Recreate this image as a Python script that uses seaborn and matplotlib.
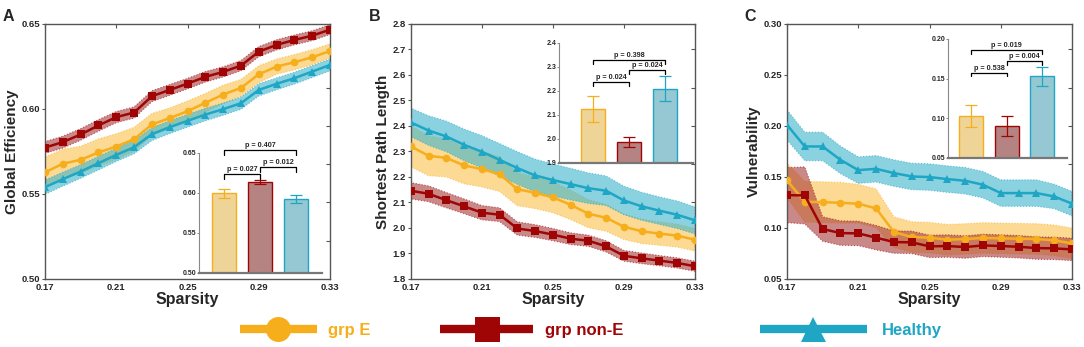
import matplotlib
matplotlib.use("Agg")
import matplotlib.pyplot as plt
from matplotlib.lines import Line2D
import numpy as np
import seaborn as sns

sns.set_style("white")
plt.rcParams['font.family'] = ['Liberation Sans', 'DejaVu Sans']
plt.rcParams['font.weight'] = 'bold'

# ---- data ----
sparsity = [0.17, 0.18, 0.19, 0.20, 0.21, 0.22, 0.23, 0.24, 0.25, 0.26,
            0.27, 0.28, 0.29, 0.30, 0.31, 0.32, 0.33]
groups = ["grp E", "grp non-E", "Healthy"]

# A: global efficiency
ge_E = [0.5627, 0.5678, 0.5701, 0.5744, 0.5779, 0.5822, 0.5909, 0.5946, 0.5987,
        0.6036, 0.6085, 0.6124, 0.6204, 0.6249, 0.6275, 0.6304, 0.6341]
ge_nonE = [0.5773, 0.5805, 0.5850, 0.5903, 0.5952, 0.5979, 0.6075, 0.6112, 0.6149,
           0.6189, 0.6218, 0.6255, 0.6337, 0.6377, 0.6406, 0.6431, 0.6467]
ge_H = [0.5540, 0.5587, 0.5632, 0.5681, 0.5730, 0.5775, 0.5852, 0.5893, 0.5930,
        0.5967, 0.5999, 0.6034, 0.6112, 0.6148, 0.6181, 0.6220, 0.6259]
ge_E_sem = [0.009, 0.0085, 0.008, 0.008, 0.0075, 0.007, 0.0065, 0.006, 0.006,
            0.0055, 0.0055, 0.005, 0.005, 0.0045, 0.0045, 0.0045, 0.0042]
ge_nonE_sem = [0.0035, 0.0035, 0.0034, 0.0034, 0.0033, 0.0033, 0.0032, 0.0032, 0.0031,
               0.0031, 0.003, 0.003, 0.003, 0.003, 0.0029, 0.0029, 0.0029]
ge_H_sem = [0.0042, 0.0041, 0.004, 0.004, 0.0039, 0.0039, 0.0038, 0.0038, 0.0037,
            0.0037, 0.0036, 0.0036, 0.0036, 0.0035, 0.0035, 0.0035, 0.0035]
ge_bar = [0.5997, 0.6135, 0.5922]
ge_bar_err = [0.0057, 0.0027, 0.005]
ge_p = ["p = 0.027", "p = 0.012", "p = 0.407"]

# B: shortest path length
spl_E = [2.320, 2.283, 2.275, 2.245, 2.231, 2.211, 2.152, 2.138, 2.120, 2.091,
         2.056, 2.040, 2.005, 1.987, 1.978, 1.970, 1.954]
spl_nonE = [2.146, 2.134, 2.109, 2.085, 2.060, 2.052, 1.998, 1.988, 1.974, 1.958,
            1.950, 1.928, 1.891, 1.881, 1.872, 1.863, 1.850]
spl_H = [2.414, 2.382, 2.359, 2.326, 2.299, 2.267, 2.235, 2.206, 2.188, 2.172,
         2.156, 2.146, 2.108, 2.085, 2.068, 2.052, 2.030]
spl_E_sem = [0.08, 0.078, 0.075, 0.072, 0.07, 0.068, 0.065, 0.062, 0.06, 0.058,
             0.055, 0.053, 0.05, 0.048, 0.046, 0.045, 0.044]
spl_nonE_sem = [0.032, 0.031, 0.03, 0.029, 0.028, 0.027, 0.026, 0.025, 0.024, 0.023,
                0.022, 0.022, 0.021, 0.021, 0.02, 0.02, 0.02]
spl_H_sem = [0.056, 0.058, 0.06, 0.062, 0.063, 0.064, 0.064, 0.064, 0.063, 0.062,
             0.06, 0.058, 0.056, 0.055, 0.054, 0.054, 0.053]
spl_bar = [2.125, 1.9875, 2.21]
spl_bar_err = [0.053, 0.021, 0.051]
spl_p = ["p = 0.024", "p = 0.024", "p = 0.398"]

# C: vulnerability
vul_E = [0.1466, 0.1257, 0.1253, 0.1247, 0.1238, 0.1192, 0.0960, 0.0911, 0.0905,
         0.0885, 0.0892, 0.0902, 0.0898, 0.0895, 0.0892, 0.0879, 0.0849]
vul_nonE = [0.1322, 0.1319, 0.0990, 0.0950, 0.0947, 0.0905, 0.0862, 0.0859, 0.0820,
            0.0823, 0.0813, 0.0829, 0.0823, 0.0816, 0.0803, 0.0800, 0.0790]
vul_H = [0.2011, 0.1799, 0.1799, 0.1668, 0.1567, 0.1580, 0.1538, 0.1505, 0.1499,
         0.1479, 0.1463, 0.1424, 0.1342, 0.1342, 0.1342, 0.1309, 0.1238]
vul_E_sem = [0.017, 0.02, 0.02, 0.02, 0.019, 0.019, 0.015, 0.015, 0.015,
             0.015, 0.015, 0.015, 0.015, 0.015, 0.015, 0.015, 0.015]
vul_nonE_sem = [0.027, 0.028, 0.012, 0.012, 0.012, 0.012, 0.011, 0.011, 0.011,
                0.011, 0.011, 0.011, 0.011, 0.011, 0.011, 0.011, 0.011]
vul_H_sem = [0.0147, 0.014, 0.014, 0.0135, 0.013, 0.013, 0.013, 0.013, 0.013,
             0.013, 0.013, 0.013, 0.013, 0.013, 0.013, 0.012, 0.012]
vul_bar = [0.1028, 0.0906, 0.1531]
vul_bar_err = [0.0138, 0.0126, 0.0122]
vul_p = ["p = 0.538", "p = 0.004", "p = 0.019"]

line_colors = ["#F7AE1C", "#A00505", "#1EA6C4"]
band_colors = ["#FBC24C", "#A83A3A", "#3DB5CC"]
band_alpha = [0.6, 0.6, 0.6]
bar_faces = ["#FDD98A", "#BE7A7A", "#8BCFDD"]
markers = ["o", "s", "^"]
frame_col = "#555555"

fig = plt.figure(figsize=(10.84, 3.47), dpi=100)


def main_panel(rect, series, sems, ylim, yticks, ylabel, letter):
    ax = fig.add_axes(rect)
    # right-side inner ticks (own scale, drawn under the data)
    ax2 = ax.twinx()
    ax2.set_ylim(0, 1)
    ax2.set_yticks([0.15, 0.30, 0.45, 0.60, 0.75, 0.90])
    ax2.tick_params(axis='y', direction='in', length=3, width=0.8, color=frame_col,
                    labelright=False)
    ax2.set_zorder(ax.get_zorder() - 1)
    ax.patch.set_visible(False)
    for s in ax2.spines.values():
        s.set_visible(False)

    for i in [0, 2, 1]:
        y = np.array(series[i])
        e = np.array(sems[i])
        ax.fill_between(sparsity, y - e, y + e, facecolor=band_colors[i], alpha=band_alpha[i],
                        edgecolor=line_colors[i], linestyle=':', linewidth=0.8, zorder=2)
    for i in [0, 2, 1]:
        sns.lineplot(x=sparsity, y=series[i], ax=ax, color=line_colors[i], marker=markers[i],
                     markersize=5.5, markeredgewidth=0, linewidth=1.8, zorder=3)
    ax.set_xlim(0.17, 0.33)
    ax.set_ylim(*ylim)
    ax.set_xticks([0.17, 0.21, 0.25, 0.29, 0.33])
    ax.set_xticklabels(["0.17", "0.21", "0.25", "0.29", "0.33"])
    ax.set_yticks(yticks)
    ax.set_yticklabels(["%.2f" % t if ylim[1] < 1 else "%.1f" % t for t in yticks])
    ax.tick_params(axis='both', labelsize=6.8, length=2, width=0.8, color=frame_col, pad=1.5)
    ax.tick_params(axis='x', top=True, direction='in', length=3, pad=3)
    ax.tick_params(axis='y', left=True, direction='out', length=2)
    for lab in ax.get_xticklabels() + ax.get_yticklabels():
        lab.set_fontweight('bold')
    for s in ax.spines.values():
        s.set_color(frame_col)
        s.set_linewidth(1.0)
    ax.set_xlabel("Sparsity", fontsize=11.5, fontweight='bold', labelpad=0)
    ax.set_ylabel(ylabel, fontsize=11, fontweight='bold', labelpad=2)
    fig.text(rect[0] - 0.039, 0.975, letter, fontsize=11.5, fontweight='bold', va='top')
    return ax


def inset_panel(rect, means, errs, ylim, yticks, xlim, pvals, levels, drop):
    ax = fig.add_axes(rect)
    ax.patch.set_visible(False)
    sns.barplot(x=groups, y=means, hue=groups, palette=bar_faces, legend=False, ax=ax,
                width=0.67, linewidth=1.0, zorder=2)
    for i, p in enumerate(ax.patches):
        p.set_edgecolor(line_colors[i])
    for i in range(3):
        ax.errorbar(i, means[i], yerr=errs[i], color=line_colors[i], capsize=4.5,
                    elinewidth=0.9, capthick=0.9, zorder=3)
    pairs = [(0, 1), (1, 2), (0, 2)]
    for (a, b), txt, h in zip(pairs, pvals, levels):
        ax.plot([a, a, b, b], [h - drop, h, h, h - drop], color='black', lw=0.9,
                clip_on=False, zorder=4)
        ax.text((a + b) / 2, h + drop * 0.25, txt, ha='center', va='bottom', fontsize=5.2,
                fontweight='bold', clip_on=False)
    ax.set_xlim(*xlim)
    ax.set_ylim(*ylim)
    ax.set_yticks(yticks)
    ax.set_yticklabels(["%.2f" % t if ylim[1] < 1 else "%.1f" % t for t in yticks])
    ax.set_xticks([])
    ax.set_xlabel("")
    ax.set_ylabel("")
    ax.tick_params(axis='y', labelsize=5, length=1.5, width=0.6, color='#777777', pad=0.5,
                   left=True, direction='out')
    for lab in ax.get_yticklabels():
        lab.set_fontweight('bold')
    ax.spines['top'].set_visible(False)
    ax.spines['right'].set_visible(False)
    ax.spines['left'].set_color('#888888')
    ax.spines['left'].set_linewidth(0.8)
    ax.spines['bottom'].set_color('#777777')
    ax.spines['bottom'].set_linewidth(1.6)
    return ax


main_panel([0.0415, 0.196, 0.263, 0.735], [ge_E, ge_nonE, ge_H],
           [ge_E_sem, ge_nonE_sem, ge_H_sem], (0.50, 0.65), [0.50, 0.55, 0.60, 0.65],
           "Global Efficiency", "A")
inset_panel([0.1836, 0.2133, 0.1135, 0.3458], ge_bar, ge_bar_err, (0.50, 0.65),
            [0.50, 0.55, 0.60, 0.65], (-0.69, 2.72), ge_p, [0.624, 0.6326, 0.6534], 0.0059)

main_panel([0.379, 0.196, 0.262, 0.735], [spl_E, spl_nonE, spl_H],
           [spl_E_sem, spl_nonE_sem, spl_H_sem], (1.8, 2.8),
           [1.8, 1.9, 2.0, 2.1, 2.2, 2.3, 2.4, 2.5, 2.6, 2.7, 2.8],
           "Shortest Path Length", "B")
inset_panel([0.5157, 0.5303, 0.1236, 0.3458], spl_bar, spl_bar_err, (1.9, 2.4),
            [1.9, 2.0, 2.1, 2.2, 2.3, 2.4], (-0.96, 2.78), spl_p, [2.236, 2.289, 2.331], 0.017)

main_panel([0.726, 0.196, 0.263, 0.735], [vul_E, vul_nonE, vul_H],
           [vul_E_sem, vul_nonE_sem, vul_H_sem], (0.05, 0.30),
           [0.05, 0.10, 0.15, 0.20, 0.25, 0.30], "Vulnerability", "C")
inset_panel([0.8745, 0.5447, 0.1098, 0.343], vul_bar, vul_bar_err, (0.05, 0.20),
            [0.05, 0.10, 0.15, 0.20], (-0.66, 2.70), vul_p, [0.1577, 0.1719, 0.1862], 0.005)

# legend: one entry per group, placed like the reference
leg_x = [240 / 1084, 440 / 1084, 760 / 1084]
leg_len = [4.6, 5.6, 6.4]
leg_pad = [0.7, 0.7, 0.9]
for i in range(3):
    h = Line2D([], [], color=line_colors[i], lw=6, marker=markers[i], markersize=18,
               markeredgewidth=0, solid_capstyle='butt')
    leg = fig.legend([h], [groups[i]], loc='center left', bbox_to_anchor=(leg_x[i], 0.047),
                     frameon=False, borderpad=0, borderaxespad=0, handlelength=leg_len[i],
                     handletextpad=leg_pad[i], prop={'size': 12, 'weight': 'bold'})
    leg.get_texts()[0].set_color(line_colors[i])

fig.savefig("out.png", dpi=100)
